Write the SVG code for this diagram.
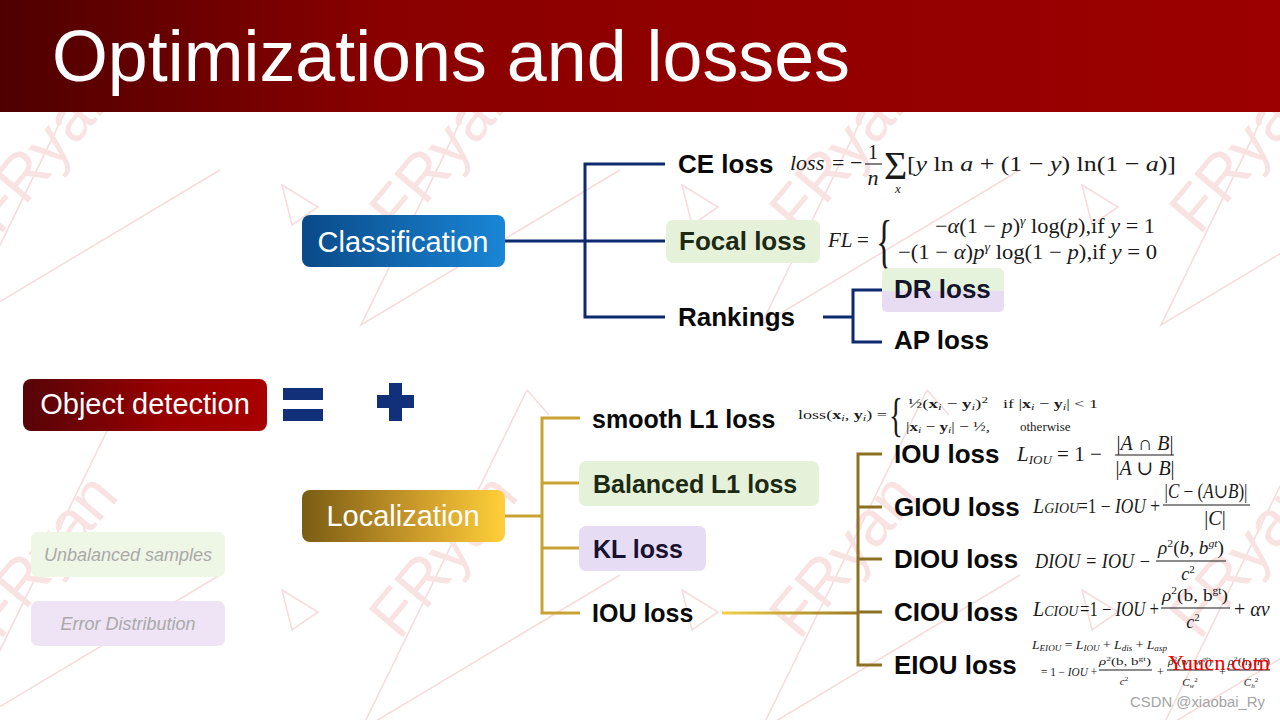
<svg xmlns="http://www.w3.org/2000/svg" xmlns:xlink="http://www.w3.org/1999/xlink" width="1280" height="720" viewBox="0 0 1280 720">
<style>
.lbl{font-family:"Liberation Sans",Arial,sans-serif;font-weight:bold;font-size:26px;fill:#0a0a0a}
.node{font-family:"Liberation Sans",Arial,sans-serif;font-size:29px;fill:#ffffff}
.dim{font-family:"Liberation Sans",Arial,sans-serif;font-style:italic;font-size:18px;fill:#a9a9a9}
.m{font-family:"Liberation Serif","DejaVu Serif","Times New Roman",serif;fill:#1a1a1a}
.i{font-style:italic}
.b{font-weight:bold}
.wmt{font-family:"Liberation Sans",Arial,sans-serif;font-size:64px;fill:#f9e2e2}
.wml{fill:none;stroke:#f7dcdc;stroke-width:1.6}
.navy{fill:none;stroke:#0d2a6e;stroke-width:3}
.gold{fill:none;stroke:#c9a232;stroke-width:3}
.olive{fill:none;stroke:#8c7024;stroke-width:3}
.bar{stroke:#1a1a1a;stroke-width:1.1}
</style>
<defs>
<linearGradient id="gHead" x1="0" y1="0" x2="1" y2="0">
<stop offset="0" stop-color="#4e0000"/><stop offset="0.3" stop-color="#8a0000"/><stop offset="1" stop-color="#9c0000"/>
</linearGradient>
<linearGradient id="gCls" x1="0" y1="0" x2="1" y2="0">
<stop offset="0" stop-color="#0a4a88"/><stop offset="1" stop-color="#1a86d6"/>
</linearGradient>
<linearGradient id="gObj" x1="0" y1="0" x2="1" y2="0">
<stop offset="0" stop-color="#560408"/><stop offset="0.6" stop-color="#9a0000"/><stop offset="1" stop-color="#a80000"/>
</linearGradient>
<linearGradient id="gLoc" x1="0" y1="0" x2="1" y2="0">
<stop offset="0" stop-color="#7a5c14"/><stop offset="0.55" stop-color="#c9982a"/><stop offset="1" stop-color="#ffcf3a"/>
</linearGradient>
<linearGradient id="gIou" gradientUnits="userSpaceOnUse" x1="722" y1="0" x2="858" y2="0">
<stop offset="0" stop-color="#f2d04a"/><stop offset="1" stop-color="#9a7a22"/>
</linearGradient>
<g id="wm">
<polyline class="wml" points="84,-165 -82,175 177,20"/>
<line class="wml" x1="84" y1="-165" x2="106" y2="-140"/>
<polygon class="wml" points="-161,35 -125,57 -151,75"/>
<text class="wmt" text-anchor="middle" transform="rotate(-50)" y="22">FRyan</text>
</g>
</defs>

<rect x="0" y="0" width="1280" height="720" fill="#ffffff"/>

<g id="watermarks">
<use xlink:href="#wm" x="43" y="150"/>
<use xlink:href="#wm" x="443" y="150"/>
<use xlink:href="#wm" x="843" y="150"/>
<use xlink:href="#wm" x="1243" y="150"/>
<use xlink:href="#wm" x="43" y="555"/>
<use xlink:href="#wm" x="443" y="555"/>
<use xlink:href="#wm" x="843" y="555"/>
<use xlink:href="#wm" x="1243" y="555"/>
</g>

<g id="header">
<rect x="0" y="0" width="1280" height="112" fill="url(#gHead)"/>
<text x="52" y="81" font-family="Liberation Sans, Arial, sans-serif" font-size="72" fill="#ffffff" textLength="798" lengthAdjust="spacingAndGlyphs">Optimizations and losses</text>
</g>

<g id="connectors">
<path class="navy" d="M505,241 H665 M665,164 H585 V317 H665 M823,317 H853 M882,290 H853 V342 H882"/>
<path class="gold" d="M505,516 H542 M580,418 H542 V613 H580 M542,483 H580 M542,548 H580"/>
<path d="M722,613 H858" fill="none" stroke="url(#gIou)" stroke-width="3"/>
<path class="olive" d="M882,454 H858 V665 H882 M858,507 H882 M858,559 H882 M858,612 H882"/>
</g>

<g id="object-detection">
<rect x="23" y="379" width="244" height="52" rx="8" fill="url(#gObj)"/>
<text class="node" x="145" y="414" text-anchor="middle">Object detection</text>
</g>

<g id="equals-plus" fill="#12307a">
<rect x="283" y="388" width="40" height="12"/>
<rect x="283" y="409" width="40" height="12"/>
<rect x="377" y="395" width="37" height="13"/>
<rect x="389" y="383" width="13" height="38"/>
</g>

<g id="classification">
<rect x="302" y="215" width="203" height="52" rx="8" fill="url(#gCls)"/>
<text class="node" x="403" y="252" text-anchor="middle">Classification</text>
</g>

<g id="localization">
<rect x="302" y="490" width="203" height="52" rx="8" fill="url(#gLoc)"/>
<text class="node" x="403" y="526" text-anchor="middle">Localization</text>
</g>

<g id="unbalanced-samples">
<rect x="31" y="532" width="194" height="45" rx="7" fill="#eef6e6"/>
<text class="dim" x="128" y="561" text-anchor="middle">Unbalanced samples</text>
</g>

<g id="error-distribution">
<rect x="31" y="601" width="194" height="45" rx="7" fill="#efe4f6"/>
<text class="dim" x="128" y="630" text-anchor="middle">Error Distribution</text>
</g>

<g id="ce-loss">
<text class="lbl" x="678" y="173">CE loss</text>
<g class="m">
<text x="790" y="170" font-size="22" class="i">loss</text>
<text x="832" y="170" font-size="22">=</text>
<text x="850" y="170" font-size="22">−</text>
<text x="873" y="159" font-size="20" text-anchor="middle">1</text>
<line class="bar" x1="865" y1="164" x2="882" y2="164"/>
<text x="873" y="185" font-size="22" text-anchor="middle" class="i">n</text>
<text x="884" y="179" font-size="40">Σ</text>
<text x="898" y="193" font-size="13" text-anchor="middle" class="i">x</text>
<text x="907" y="171" font-size="22" textLength="269" lengthAdjust="spacingAndGlyphs">[<tspan class="i">y</tspan> ln <tspan class="i">a</tspan> + (1 − <tspan class="i">y</tspan>) ln(1 − <tspan class="i">a</tspan>)]</text>
</g>
</g>

<g id="focal-loss">
<rect x="666" y="220" width="154" height="43" rx="7" fill="#e5f2d9"/>
<text class="lbl" x="679" y="250" style="fill:#1c2a14">Focal loss</text>
<g class="m">
<text x="828" y="247" font-size="21" class="i">FL</text>
<text x="857" y="247" font-size="21">=</text>
<text transform="translate(876 261) scale(0.85 1.5)" font-size="40">{</text>
<text x="935" y="233" font-size="21" textLength="220" lengthAdjust="spacingAndGlyphs">−<tspan class="i">α</tspan>(1 − <tspan class="i">p</tspan>)<tspan class="i" font-size="13" dy="-8">γ</tspan><tspan dy="8"> log(</tspan><tspan class="i">p</tspan>),if <tspan class="i">y</tspan> = 1</text>
<text x="898" y="259" font-size="21" textLength="259" lengthAdjust="spacingAndGlyphs">−(1 − <tspan class="i">α</tspan>)<tspan class="i">p</tspan><tspan class="i" font-size="13" dy="-8">γ</tspan><tspan dy="8"> log(1 − </tspan><tspan class="i">p</tspan>),if <tspan class="i">y</tspan> = 0</text>
</g>
</g>

<g id="rankings">
<text class="lbl" x="678" y="326">Rankings</text>
</g>

<g id="dr-loss">
<rect x="882" y="268" width="122" height="44" rx="6" fill="#e6f3dc"/>
<path d="M882,291 H1004 V306 Q1004,312 998,312 H888 Q882,312 882,306 Z" fill="#e8dcf2"/>
<text class="lbl" x="894" y="298" style="fill:#14142a">DR loss</text>
</g>

<g id="ap-loss">
<text class="lbl" x="894" y="349">AP loss</text>
</g>

<g id="smooth-l1-loss">
<text class="lbl" x="592" y="428" style="font-size:25px">smooth L1 loss</text>
<g class="m">
<text x="798" y="419" font-size="13" textLength="89" lengthAdjust="spacingAndGlyphs">loss(<tspan class="b">x</tspan><tspan class="i" font-size="9" dy="2">i</tspan><tspan dy="-2">, </tspan><tspan class="b">y</tspan><tspan class="i" font-size="9" dy="2">i</tspan><tspan dy="-2">) =</tspan></text>
<text transform="translate(889 431) scale(0.8 1.3)" font-size="36">{</text>
<text x="908" y="408" font-size="13" textLength="80" lengthAdjust="spacingAndGlyphs">½(<tspan class="b">x</tspan><tspan class="i" font-size="9" dy="2">i</tspan><tspan dy="-2"> − </tspan><tspan class="b">y</tspan><tspan class="i" font-size="9" dy="2">i</tspan><tspan dy="-2">)</tspan><tspan font-size="9" dy="-5">2</tspan></text>
<text x="1003" y="408" font-size="13" textLength="95" lengthAdjust="spacingAndGlyphs">if |<tspan class="b">x</tspan><tspan class="i" font-size="9" dy="2">i</tspan><tspan dy="-2"> − </tspan><tspan class="b">y</tspan><tspan class="i" font-size="9" dy="2">i</tspan><tspan dy="-2">| &lt; 1</tspan></text>
<text x="906" y="431" font-size="13" textLength="84" lengthAdjust="spacingAndGlyphs">|<tspan class="b">x</tspan><tspan class="i" font-size="9" dy="2">i</tspan><tspan dy="-2"> − </tspan><tspan class="b">y</tspan><tspan class="i" font-size="9" dy="2">i</tspan><tspan dy="-2">| − ½,</tspan></text>
<text x="1020" y="431" font-size="13">otherwise</text>
</g>
</g>

<g id="balanced-l1-loss">
<rect x="579" y="461" width="240" height="45" rx="7" fill="#e5f2d9"/>
<text class="lbl" x="593" y="493" style="font-size:25px;fill:#1c2a14">Balanced L1 loss</text>
</g>

<g id="kl-loss">
<rect x="579" y="526" width="127" height="45" rx="7" fill="#e6dcf4"/>
<text class="lbl" x="593" y="558" style="font-size:25px;fill:#1a1030">KL loss</text>
</g>

<g id="iou-loss-main">
<text class="lbl" x="592" y="622" style="font-size:25px">IOU loss</text>
</g>

<g id="iou-loss">
<text class="lbl" x="894" y="463">IOU loss</text>
<g class="m">
<text x="1017" y="461" font-size="21"><tspan class="i">L</tspan><tspan class="i" font-size="13" dy="3">IOU</tspan><tspan dy="-3"> = 1 −</tspan></text>
<text x="1145" y="450" font-size="20" text-anchor="middle">|<tspan class="i">A</tspan> ∩ <tspan class="i">B</tspan>|</text>
<line class="bar" x1="1115" y1="455" x2="1174" y2="455"/>
<text x="1145" y="475" font-size="20" text-anchor="middle">|<tspan class="i">A</tspan> ∪ <tspan class="i">B</tspan>|</text>
</g>
</g>

<g id="giou-loss">
<text class="lbl" x="894" y="516">GIOU loss</text>
<g class="m">
<text x="1033" y="513" font-size="20"><tspan class="i">L</tspan><tspan class="i" font-size="14">GIOU</tspan></text>
<text x="1078" y="513" font-size="20" textLength="82" lengthAdjust="spacingAndGlyphs">=1 − <tspan class="i">IOU</tspan> +</text>
<text x="1206" y="498" font-size="20" text-anchor="middle" textLength="83" lengthAdjust="spacingAndGlyphs">|<tspan class="i">C</tspan> − (<tspan class="i">A</tspan>∪<tspan class="i">B</tspan>)|</text>
<line class="bar" x1="1163" y1="505" x2="1250" y2="505"/>
<text x="1215" y="525" font-size="20" text-anchor="middle">|<tspan class="i">C</tspan>|</text>
</g>
</g>

<g id="diou-loss">
<text class="lbl" x="894" y="568">DIOU loss</text>
<g class="m">
<text x="1035" y="568" font-size="20" class="i" textLength="116" lengthAdjust="spacingAndGlyphs">DIOU = IOU −</text>
<text x="1191" y="554" font-size="18" text-anchor="middle" textLength="66" lengthAdjust="spacingAndGlyphs"><tspan class="i">ρ</tspan><tspan font-size="11" dy="-7">2</tspan><tspan dy="7">(</tspan><tspan class="i">b</tspan>, <tspan class="i">b</tspan><tspan class="i" font-size="11" dy="-7">gt</tspan><tspan dy="7">)</tspan></text>
<line class="bar" x1="1156" y1="561" x2="1226" y2="561"/>
<text x="1188" y="580" font-size="18" text-anchor="middle"><tspan class="i">c</tspan><tspan font-size="11" dy="-7">2</tspan></text>
</g>
</g>

<g id="ciou-loss">
<text class="lbl" x="894" y="621">CIOU loss</text>
<g class="m">
<text x="1033" y="616" font-size="20"><tspan class="i">L</tspan><tspan class="i" font-size="14">CIOU</tspan></text>
<text x="1080" y="616" font-size="20" textLength="79" lengthAdjust="spacingAndGlyphs">=1 − <tspan class="i">IOU</tspan> +</text>
<text x="1195" y="601" font-size="17" text-anchor="middle" textLength="66" lengthAdjust="spacingAndGlyphs"><tspan class="i">ρ</tspan><tspan font-size="10" dy="-7">2</tspan><tspan dy="7">(b, b</tspan><tspan font-size="10" dy="-7">gt</tspan><tspan dy="7">)</tspan></text>
<line class="bar" x1="1161" y1="608" x2="1230" y2="608"/>
<text x="1193" y="628" font-size="18" text-anchor="middle"><tspan class="i">c</tspan><tspan font-size="11" dy="-7">2</tspan></text>
<text x="1234" y="616" font-size="20">+ <tspan class="i">αv</tspan></text>
</g>
</g>

<g id="eiou-loss">
<text class="lbl" x="894" y="674">EIOU loss</text>
<g class="m" fill="#333">
<text x="1032" y="649" font-size="12" textLength="135" lengthAdjust="spacingAndGlyphs"><tspan class="i">L</tspan><tspan class="i" font-size="8" dy="2">EIOU</tspan><tspan dy="-2"> = </tspan><tspan class="i">L</tspan><tspan class="i" font-size="8" dy="2">IOU</tspan><tspan dy="-2"> + </tspan><tspan class="i">L</tspan><tspan class="i" font-size="8" dy="2">dis</tspan><tspan dy="-2"> + </tspan><tspan class="i">L</tspan><tspan class="i" font-size="8" dy="2">asp</tspan></text>
<text x="1041" y="676" font-size="12" textLength="56" lengthAdjust="spacingAndGlyphs">= 1 − <tspan class="i">IOU</tspan> +</text>
<text x="1125" y="665" font-size="11" text-anchor="middle" textLength="52" lengthAdjust="spacingAndGlyphs"><tspan class="i">ρ</tspan><tspan font-size="7" dy="-4">2</tspan><tspan dy="4">(b, b</tspan><tspan font-size="7" dy="-4">gt</tspan><tspan dy="4">)</tspan></text>
<line class="bar" x1="1099" y1="670" x2="1152" y2="670" stroke-width="0.8"/>
<text x="1124" y="685" font-size="11" text-anchor="middle"><tspan class="i">c</tspan><tspan font-size="7" dy="-4">2</tspan></text>
<text x="1157" y="676" font-size="12">+</text>
<text x="1190" y="665" font-size="11" text-anchor="middle" textLength="44" lengthAdjust="spacingAndGlyphs"><tspan class="i">ρ</tspan><tspan font-size="7" dy="-4">2</tspan><tspan dy="4">(</tspan><tspan class="i">w</tspan>, <tspan class="i">w</tspan><tspan class="i" font-size="7" dy="-4">gt</tspan><tspan dy="4">)</tspan></text>
<line class="bar" x1="1167" y1="670" x2="1213" y2="670" stroke-width="0.8"/>
<text x="1190" y="686" font-size="11" text-anchor="middle"><tspan class="i">C</tspan><tspan class="i" font-size="7" dy="2">w</tspan><tspan font-size="7" dy="-6">2</tspan></text>
<text x="1219" y="676" font-size="12">+</text>
<text x="1249" y="665" font-size="11" text-anchor="middle" textLength="42" lengthAdjust="spacingAndGlyphs"><tspan class="i">ρ</tspan><tspan font-size="7" dy="-4">2</tspan><tspan dy="4">(</tspan><tspan class="i">h</tspan>, <tspan class="i">h</tspan><tspan class="i" font-size="7" dy="-4">gt</tspan><tspan dy="4">)</tspan></text>
<line class="bar" x1="1228" y1="670" x2="1270" y2="670" stroke-width="0.8"/>
<text x="1251" y="686" font-size="11" text-anchor="middle"><tspan class="i">C</tspan><tspan class="i" font-size="7" dy="2">h</tspan><tspan font-size="7" dy="-6">2</tspan></text>
</g>
</g>

<g id="page-marks">
<text x="1168" y="670" font-family="Liberation Serif, Times New Roman, serif" font-size="20" fill="#ee0000" textLength="102" lengthAdjust="spacingAndGlyphs">Yuucn.com</text>
<text x="1130" y="707" font-family="Liberation Sans, Arial, sans-serif" font-size="14" fill="#a4a4a4" textLength="135" lengthAdjust="spacingAndGlyphs">CSDN @xiaobai_Ry</text>
</g>
</svg>
